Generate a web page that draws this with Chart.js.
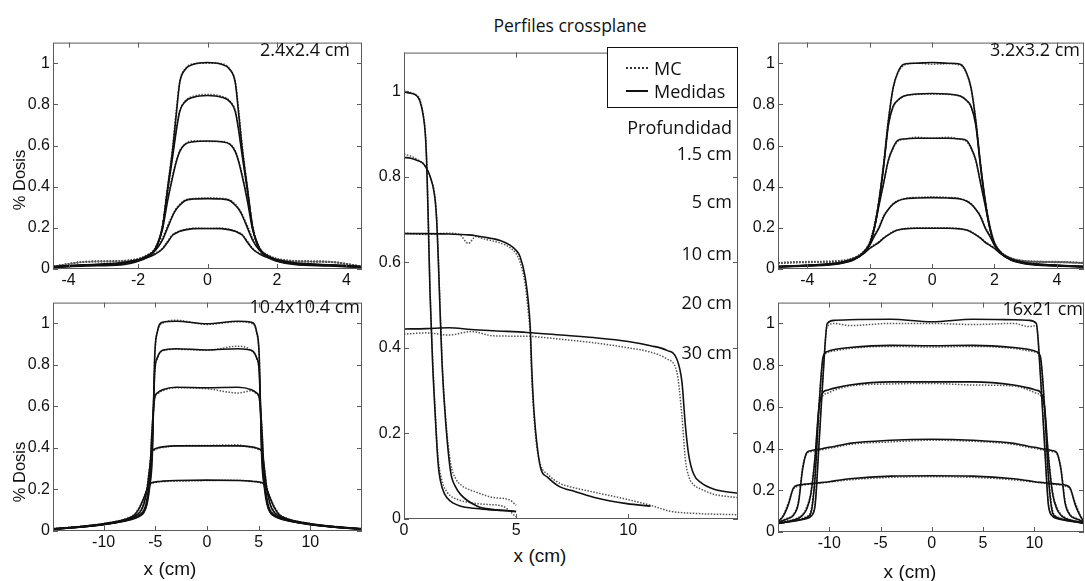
<!DOCTYPE html>
<html>
<head>
<meta charset="utf-8">
<script src="https://cdn.jsdelivr.net/npm/chart.js@4.4.1/dist/chart.umd.min.js"></script>
<style>
  body { margin: 0; background: #fff; width: 1085px; height: 581px; overflow: hidden; position: relative; }
  canvas { position: absolute; }
  .note { position: absolute; font-family: "Open Sans", sans-serif; font-size: 18px; line-height: 1; color: #111; white-space: nowrap; transform: translateY(-50%); }
  .axt { position: absolute; font-family: "Liberation Sans", Arial, sans-serif; color: #111; white-space: nowrap; line-height: 1; }
  #legend { position: absolute; left: 607px; top: 47px; width: 131px; height: 61px; box-sizing: border-box; border: 1px solid #111; background: #fff; }
  #legend .smp { position: absolute; left: 18px; width: 22px; height: 0; }
</style>
</head>
<body>
<canvas id="pTL"></canvas>
<canvas id="pBL"></canvas>
<canvas id="pMid"></canvas>
<canvas id="pTR"></canvas>
<canvas id="pBR"></canvas>

<div class="note" style="left:570px;top:26px;font-size:17.5px;transform:translate(-50%,-50%)">Perfiles crossplane</div>
<div class="note" style="right:735px;top:49px">2.4x2.4 cm</div>
<div class="note" style="right:725px;top:306px">10.4x10.4 cm</div>
<div class="note" style="right:5px;top:49px">3.2x3.2 cm</div>
<div class="note" style="right:2px;top:308px">16x21 cm</div>
<div class="note" style="right:353px;top:127px">Profundidad</div>
<div class="note" style="right:353px;top:153px">1.5 cm</div>
<div class="note" style="right:353px;top:201px">5 cm</div>
<div class="note" style="right:353px;top:253px">10 cm</div>
<div class="note" style="right:353px;top:302px">20 cm</div>
<div class="note" style="right:353px;top:352px">30 cm</div>

<div id="legend">
  <div class="smp" style="top:19px;border-top:2px dotted #333"></div>
  <div class="note" style="left:46px;top:20px">MC</div>
  <div class="smp" style="top:42px;border-top:2px solid #111"></div>
  <div class="note" style="left:46px;top:43px">Medidas</div>
</div>

<div class="axt" style="left:19px;top:180px;font-size:16.5px;transform:translate(-50%,-50%) rotate(-90deg)">% Dosis</div>
<div class="axt" style="left:19px;top:472px;font-size:16.5px;transform:translate(-50%,-50%) rotate(-90deg)">% Dosis</div>
<div class="axt" style="left:170px;top:568px;font-size:19px;transform:translate(-50%,-50%)">x (cm)</div>
<div class="axt" style="left:540px;top:555px;font-size:19px;transform:translate(-50%,-50%)">x (cm)</div>
<div class="axt" style="left:910px;top:571px;font-size:19px;transform:translate(-50%,-50%)">x (cm)</div>

<script>
// ---- tick values ----
const ticksY = [0, 0.2, 0.4, 0.6, 0.8, 1];
const ticksXSmall = [-4, -2, 0, 2, 4];
const ticksXLarge = [-10, -5, 0, 5, 10];
const ticksXMid = [0, 5, 10];

// ---- 2.4x2.4 cm field (depths 1.5, 5, 10, 20, 30 cm) ----
const x24 = [-4.45,-3.5,-2.5,-2,-1.75,-1.5,-1.3,-1.15,-1,-0.9,-0.8,-0.65,-0.4,0,0.4,0.65,0.8,0.9,1,1.15,1.3,1.5,1.75,2,2.5,3.5,4.45];
const med24_15 = [0.008,0.015,0.02,0.038,0.055,0.095,0.2,0.39,0.585,0.75,0.905,0.968,0.995,1.003,0.995,0.968,0.905,0.75,0.585,0.39,0.2,0.095,0.055,0.038,0.022,0.015,0.008];
const med24_5 = [0.009,0.017,0.025,0.04,0.058,0.097,0.2,0.38,0.55,0.67,0.765,0.812,0.835,0.843,0.835,0.812,0.765,0.67,0.55,0.38,0.2,0.097,0.058,0.04,0.025,0.017,0.009];
const med24_10 = [0.01,0.018,0.027,0.042,0.06,0.1,0.19,0.33,0.45,0.52,0.57,0.605,0.618,0.622,0.618,0.605,0.57,0.52,0.45,0.33,0.19,0.1,0.06,0.042,0.027,0.018,0.01];
const med24_20 = [0.011,0.02,0.029,0.045,0.063,0.09,0.14,0.2,0.26,0.29,0.31,0.332,0.34,0.342,0.34,0.332,0.31,0.29,0.26,0.2,0.14,0.09,0.063,0.045,0.029,0.02,0.011];
const med24_30 = [0.012,0.021,0.03,0.045,0.055,0.073,0.097,0.13,0.165,0.175,0.183,0.19,0.196,0.197,0.196,0.19,0.183,0.175,0.165,0.13,0.097,0.073,0.055,0.045,0.03,0.021,0.012];
const mc24_15 = [0.012,0.035,0.037,0.046,0.062,0.1,0.21,0.4,0.6,0.77,0.91,0.972,0.997,1.0,0.998,0.97,0.91,0.77,0.6,0.4,0.21,0.1,0.06,0.045,0.036,0.033,0.012];
const mc24_5 = [0.012,0.034,0.038,0.046,0.062,0.1,0.21,0.39,0.56,0.68,0.77,0.815,0.84,0.848,0.84,0.815,0.77,0.68,0.56,0.39,0.21,0.1,0.062,0.046,0.037,0.034,0.012];
const mc24_10 = [0.012,0.035,0.038,0.048,0.065,0.105,0.2,0.34,0.46,0.525,0.575,0.607,0.623,0.62,0.62,0.607,0.575,0.525,0.46,0.34,0.2,0.105,0.065,0.048,0.038,0.035,0.012];
const mc24_20 = [0.013,0.036,0.04,0.05,0.068,0.095,0.15,0.21,0.265,0.295,0.315,0.335,0.342,0.345,0.343,0.335,0.315,0.295,0.265,0.21,0.15,0.095,0.068,0.05,0.04,0.036,0.013];
const mc24_30 = [0.013,0.036,0.04,0.05,0.06,0.077,0.1,0.135,0.168,0.178,0.185,0.192,0.198,0.197,0.198,0.192,0.185,0.178,0.168,0.135,0.1,0.077,0.06,0.05,0.04,0.036,0.013];

// ---- 3.2x3.2 cm field ----
const x32 = [-4.94,-4,-3,-2.5,-2.2,-2,-1.85,-1.7,-1.55,-1.4,-1.25,-1.1,-0.9,-0.5,0,0.5,0.9,1.1,1.25,1.4,1.55,1.7,1.85,2,2.2,2.5,3,4,4.87];
const med32_15 = [0.01,0.015,0.025,0.045,0.075,0.12,0.2,0.33,0.51,0.72,0.88,0.955,0.995,1.0,1.003,1.0,0.995,0.955,0.88,0.72,0.51,0.33,0.2,0.12,0.075,0.045,0.025,0.015,0.01];
const med32_5 = [0.011,0.016,0.027,0.047,0.077,0.12,0.2,0.33,0.5,0.7,0.79,0.82,0.84,0.85,0.853,0.85,0.84,0.82,0.79,0.7,0.5,0.33,0.2,0.12,0.077,0.047,0.027,0.016,0.011];
const med32_10 = [0.012,0.017,0.028,0.05,0.08,0.125,0.2,0.31,0.42,0.53,0.59,0.625,0.632,0.635,0.635,0.635,0.632,0.625,0.59,0.53,0.42,0.31,0.2,0.125,0.08,0.05,0.028,0.017,0.012];
const med32_20 = [0.012,0.018,0.029,0.05,0.078,0.115,0.16,0.2,0.255,0.29,0.315,0.33,0.34,0.345,0.347,0.345,0.34,0.33,0.315,0.29,0.255,0.2,0.16,0.115,0.078,0.05,0.029,0.018,0.012];
const med32_30 = [0.013,0.019,0.03,0.05,0.075,0.1,0.115,0.13,0.15,0.166,0.18,0.19,0.195,0.198,0.198,0.198,0.195,0.19,0.18,0.166,0.15,0.13,0.115,0.1,0.075,0.05,0.03,0.019,0.013];
const mc32_15 = [0.028,0.032,0.035,0.05,0.08,0.13,0.21,0.34,0.52,0.73,0.875,0.95,0.99,1.0,0.995,0.997,0.99,0.95,0.875,0.73,0.52,0.34,0.21,0.13,0.08,0.05,0.035,0.032,0.028];
const mc32_5 = [0.029,0.033,0.037,0.052,0.082,0.13,0.21,0.34,0.51,0.7,0.785,0.818,0.84,0.848,0.85,0.848,0.84,0.818,0.785,0.7,0.51,0.34,0.21,0.13,0.082,0.052,0.037,0.033,0.029];
const mc32_10 = [0.03,0.034,0.038,0.054,0.085,0.13,0.21,0.32,0.42,0.525,0.585,0.62,0.63,0.64,0.635,0.64,0.63,0.62,0.585,0.525,0.42,0.32,0.21,0.13,0.085,0.054,0.038,0.034,0.03];
const mc32_20 = [0.03,0.035,0.039,0.055,0.083,0.12,0.165,0.205,0.26,0.29,0.318,0.332,0.342,0.348,0.35,0.348,0.342,0.332,0.318,0.29,0.26,0.205,0.165,0.12,0.083,0.055,0.039,0.035,0.03];
const mc32_30 = [0.031,0.036,0.04,0.056,0.08,0.104,0.118,0.133,0.152,0.168,0.182,0.19,0.196,0.2,0.2,0.2,0.196,0.19,0.182,0.168,0.152,0.133,0.118,0.104,0.08,0.056,0.04,0.036,0.031];

// ---- 10.4x10.4 cm field ----
const x104 = [-14.9,-12,-10,-8,-7,-6.5,-6.1,-5.8,-5.55,-5.3,-5.05,-4.8,-4.3,-3,0,3,4.3,4.8,5.05,5.3,5.55,5.8,6.1,6.5,7,8,10,12,15];
const med104_15 = [0.008,0.02,0.03,0.047,0.06,0.072,0.09,0.13,0.21,0.35,0.85,0.96,1.005,1.01,0.998,1.01,1.005,0.96,0.85,0.35,0.21,0.13,0.09,0.072,0.06,0.047,0.03,0.02,0.008];
const med104_5 = [0.009,0.02,0.031,0.048,0.062,0.075,0.095,0.14,0.23,0.4,0.77,0.835,0.87,0.878,0.872,0.878,0.87,0.835,0.77,0.4,0.23,0.14,0.095,0.075,0.062,0.048,0.031,0.02,0.009];
const med104_10 = [0.009,0.021,0.032,0.05,0.064,0.078,0.1,0.15,0.26,0.5,0.645,0.665,0.68,0.692,0.69,0.692,0.68,0.665,0.645,0.5,0.26,0.15,0.1,0.078,0.064,0.05,0.032,0.021,0.009];
const med104_20 = [0.01,0.022,0.033,0.052,0.07,0.09,0.13,0.2,0.3,0.385,0.395,0.4,0.405,0.41,0.41,0.41,0.405,0.4,0.395,0.385,0.3,0.2,0.13,0.09,0.07,0.052,0.033,0.022,0.01];
const med104_30 = [0.01,0.023,0.035,0.055,0.078,0.114,0.16,0.2,0.225,0.233,0.236,0.238,0.24,0.243,0.245,0.243,0.24,0.238,0.236,0.233,0.225,0.2,0.16,0.114,0.078,0.055,0.035,0.023,0.01];
const mc104_15 = [0.01,0.02,0.032,0.05,0.062,0.075,0.095,0.14,0.22,0.37,0.84,0.955,1.0,1.015,0.995,1.008,1.0,0.955,0.84,0.37,0.22,0.14,0.095,0.075,0.062,0.05,0.032,0.02,0.01];
const mc104_5 = [0.01,0.021,0.032,0.05,0.064,0.078,0.1,0.15,0.24,0.42,0.765,0.83,0.868,0.875,0.87,0.89,0.868,0.83,0.765,0.42,0.24,0.15,0.1,0.078,0.064,0.05,0.032,0.021,0.01];
const mc104_10 = [0.01,0.022,0.033,0.052,0.066,0.08,0.105,0.16,0.27,0.51,0.64,0.66,0.675,0.69,0.685,0.665,0.675,0.66,0.64,0.51,0.27,0.16,0.105,0.08,0.066,0.052,0.033,0.022,0.01];
const mc104_20 = [0.011,0.023,0.034,0.054,0.073,0.095,0.14,0.21,0.31,0.38,0.39,0.397,0.402,0.41,0.412,0.415,0.402,0.397,0.39,0.38,0.31,0.21,0.14,0.095,0.073,0.054,0.034,0.023,0.011];
const mc104_30 = [0.011,0.024,0.036,0.057,0.082,0.12,0.165,0.205,0.222,0.23,0.233,0.236,0.238,0.24,0.243,0.245,0.238,0.236,0.233,0.23,0.222,0.205,0.165,0.12,0.082,0.057,0.036,0.024,0.011];

// ---- 16x21 cm field ----
const x1621 = [-15,-14.5,-14,-13.5,-13,-12.6,-12.2,-11.8,-11.4,-11,-10.6,-10.2,-9.5,-8,-4,0,4,8,9.5,10.2,10.6,11,11.4,11.8,12.2,12.6,13,13.5,14,14.5,14.85];
const med1621_15 = [0.042,0.046,0.05,0.053,0.057,0.06,0.065,0.075,0.12,0.42,0.75,1.0,1.015,1.018,1.02,1.008,1.02,1.018,1.015,1.0,0.75,0.42,0.12,0.075,0.065,0.06,0.057,0.053,0.05,0.046,0.042];
const med1621_5 = [0.041,0.044,0.048,0.052,0.057,0.062,0.07,0.09,0.25,0.6,0.84,0.865,0.875,0.885,0.895,0.893,0.895,0.885,0.875,0.865,0.84,0.6,0.25,0.09,0.07,0.062,0.057,0.052,0.048,0.044,0.041];
const med1621_10 = [0.041,0.045,0.05,0.057,0.066,0.08,0.11,0.18,0.35,0.6,0.67,0.68,0.69,0.705,0.72,0.72,0.72,0.705,0.69,0.68,0.67,0.6,0.35,0.18,0.11,0.08,0.066,0.057,0.05,0.045,0.041];
const med1621_20 = [0.046,0.055,0.065,0.08,0.14,0.3,0.38,0.39,0.394,0.397,0.4,0.405,0.41,0.425,0.44,0.445,0.44,0.425,0.41,0.405,0.4,0.397,0.394,0.39,0.38,0.3,0.14,0.08,0.065,0.055,0.046];
const med1621_30 = [0.05,0.075,0.13,0.21,0.225,0.228,0.23,0.232,0.234,0.236,0.238,0.24,0.245,0.255,0.268,0.27,0.268,0.255,0.245,0.24,0.238,0.236,0.234,0.232,0.23,0.228,0.225,0.21,0.13,0.075,0.05];
const mc1621_15 = [0.045,0.05,0.053,0.056,0.06,0.064,0.07,0.08,0.13,0.44,0.76,0.985,1.0,0.99,1.0,1.0,0.995,1.0,0.985,0.99,0.76,0.44,0.13,0.08,0.07,0.064,0.06,0.056,0.053,0.05,0.045];
const mc1621_5 = [0.044,0.048,0.052,0.055,0.06,0.066,0.075,0.1,0.27,0.61,0.83,0.86,0.868,0.88,0.89,0.887,0.89,0.88,0.868,0.86,0.83,0.61,0.27,0.1,0.075,0.066,0.06,0.055,0.052,0.048,0.044];
const mc1621_10 = [0.044,0.048,0.053,0.06,0.07,0.085,0.12,0.19,0.36,0.59,0.655,0.665,0.68,0.7,0.71,0.712,0.705,0.7,0.68,0.665,0.655,0.59,0.36,0.19,0.12,0.085,0.07,0.06,0.053,0.048,0.044];
const mc1621_20 = [0.05,0.058,0.068,0.085,0.15,0.31,0.375,0.385,0.39,0.393,0.395,0.4,0.405,0.42,0.432,0.44,0.435,0.42,0.405,0.4,0.395,0.393,0.39,0.385,0.375,0.31,0.15,0.085,0.068,0.058,0.05];
const mc1621_30 = [0.053,0.08,0.14,0.205,0.22,0.225,0.227,0.23,0.232,0.234,0.236,0.238,0.242,0.25,0.262,0.265,0.262,0.25,0.242,0.238,0.236,0.234,0.232,0.23,0.227,0.225,0.22,0.205,0.14,0.08,0.053];

// ---- crossplane half profiles (centre panel) ----
const midXA = [0,0.3,0.55,0.71,0.86,0.95,1.01,1.08,1.16,1.28,1.41,1.48,1.56,1.72,1.93,2.2,2.53,3.1,3.72,4.4,5];
const midMedA = [0.998,0.995,0.99,0.977,0.942,0.9,0.835,0.7,0.53,0.36,0.226,0.16,0.11,0.07,0.049,0.037,0.03,0.025,0.022,0.02,0.018];
const midMcA = [1.0,0.997,0.99,0.98,0.945,0.905,0.84,0.71,0.54,0.37,0.235,0.17,0.125,0.085,0.062,0.05,0.043,0.037,0.034,0.03,0.005];
const midXB = [0,0.3,0.6,0.86,1.09,1.2,1.31,1.4,1.46,1.52,1.6,1.7,1.86,2.08,2.3,2.53,3.27,4,4.7,5];
const midMedB = [0.845,0.843,0.838,0.831,0.811,0.795,0.773,0.74,0.696,0.62,0.5,0.36,0.226,0.11,0.075,0.057,0.03,0.022,0.019,0.017];
const midMcB = [0.853,0.848,0.84,0.83,0.81,0.795,0.775,0.745,0.7,0.63,0.51,0.37,0.235,0.13,0.095,0.08,0.062,0.05,0.045,0.032];
const midXC = [0,1,2,2.5,2.87,3.2,3.53,4.29,4.73,5,5.18,5.4,5.55,5.63,5.7,5.8,5.92,6.1,6.4,6.96,7.44,8.45,9.94,11,11.9,13,14.9];
const midMedC = [0.667,0.667,0.666,0.665,0.664,0.662,0.659,0.651,0.64,0.628,0.613,0.567,0.505,0.45,0.35,0.25,0.18,0.118,0.098,0.075,0.067,0.051,0.036,0.03,null,null,null];
const midMcC = [0.668,0.665,0.668,0.664,0.644,0.66,0.655,0.645,0.634,0.62,0.6,0.55,0.48,0.43,0.33,0.24,0.17,0.125,0.105,0.083,0.075,0.063,0.046,0.032,0.018,0.013,0.01];
const midXD = [0,1,2,3,4,5.48,7,8.45,10,11,11.73,12.17,12.4,12.55,12.7,12.92,13.25,13.8,14.9];
const midMedD = [0.444,0.445,0.447,0.443,0.44,0.436,0.43,0.424,0.415,0.405,0.394,0.374,0.32,0.22,0.15,0.105,0.085,0.07,0.06];
const midMcD = [0.432,0.435,0.43,0.438,0.428,0.427,0.42,0.412,0.4,0.39,0.374,0.344,0.24,0.14,0.1,0.08,0.07,0.058,0.05];

/** One profile line: solid = measured (Medidas), dotted = Monte Carlo. */
function lineSet(xs, ys, dotted) {
  return {
    data: xs.map((x, i) => ({ x, y: ys[i] })),
    borderColor: dotted ? '#555' : '#111',
    borderWidth: dotted ? 1.5 : 1.6,
    borderDash: dotted ? [1.5, 1.5] : [],
    pointRadius: 0,
    fill: false,
    spanGaps: false,
    cubicInterpolationMode: 'monotone',
  };
}

function profileSets(xs, measured, mc) {
  return measured.map((ys) => lineSet(xs, ys, false))
    .concat(mc.map((ys) => lineSet(xs, ys, true)));
}

// box around the plot area with MATLAB-style inward ticks on all four sides
const frameTicks = {
  id: 'frameTicks',
  afterDatasetsDraw(chart) {
    const { ctx, chartArea: a, scales: { x, y } } = chart;
    ctx.save();
    ctx.strokeStyle = '#5a5a5a';
    ctx.lineWidth = 1;
    ctx.strokeRect(a.left + 0.5, a.top + 0.5, a.right - a.left - 1, a.bottom - a.top - 1);
    ctx.beginPath();
    x.ticks.forEach((t) => {
      const px = Math.round(x.getPixelForValue(t.value)) + 0.5;
      ctx.moveTo(px, a.bottom); ctx.lineTo(px, a.bottom - 5);
      ctx.moveTo(px, a.top); ctx.lineTo(px, a.top + 5);
    });
    y.ticks.forEach((t) => {
      const py = Math.round(y.getPixelForValue(t.value)) + 0.5;
      ctx.moveTo(a.left, py); ctx.lineTo(a.left + 5, py);
      ctx.moveTo(a.right, py); ctx.lineTo(a.right - 5, py);
    });
    ctx.stroke();
    ctx.restore();
  },
};

function axisOpts(min, max, values, fit, pad) {
  return {
    type: 'linear',
    min, max,
    afterBuildTicks: (s) => { s.ticks = values.map((v) => ({ value: v })); },
    afterFit: fit,
    grid: { display: false, drawTicks: false },
    border: { display: false },
    ticks: {
      padding: pad,
      color: '#111',
      autoSkip: false,
      maxRotation: 0,
      font: { family: '"Liberation Sans", Arial, sans-serif', size: 16 },
      callback: (v) => String(Math.round(v * 10) / 10),
    },
  };
}

// box = canvas rect on the page, area = wanted plot area (page coords)
function drawPanel(id, box, area, xMin, xMax, xTicks, yMax, sets) {
  const canvas = document.getElementById(id);
  canvas.width = box.w;
  canvas.height = box.h;
  canvas.style.left = box.x + 'px';
  canvas.style.top = box.y + 'px';
  new Chart(canvas, {
    type: 'line',
    data: { datasets: sets },
    options: {
      responsive: false,
      animation: false,
      events: [],
      layout: { padding: { left: 0, top: area.t - box.y, right: box.x + box.w - area.r, bottom: 0 } },
      plugins: { legend: { display: false }, tooltip: { enabled: false } },
      scales: {
        x: axisOpts(xMin, xMax, xTicks, (s) => { s.height = box.y + box.h - area.b; }, 2),
        y: axisOpts(0, yMax, ticksY, (s) => { s.width = area.l - box.x; }, 3),
      },
    },
    plugins: [frameTicks],
  });
}

drawPanel('pTL', { x: 0, y: 30, w: 370, h: 262 }, { l: 53, t: 37, r: 362, b: 269 }, -4.45, 4.45, ticksXSmall, 1.1,
  profileSets(x24, [med24_15, med24_5, med24_10, med24_20, med24_30], [mc24_15, mc24_5, mc24_10, mc24_20, mc24_30]));

drawPanel('pBL', { x: 0, y: 290, w: 370, h: 264 }, { l: 53, t: 295, r: 362, b: 531 }, -14.9, 15, ticksXLarge, 1.1,
  profileSets(x104, [med104_15, med104_5, med104_10, med104_20, med104_30], [mc104_15, mc104_5, mc104_10, mc104_20, mc104_30]));

drawPanel('pTR', { x: 742, y: 30, w: 343, h: 262 }, { l: 778, t: 37, r: 1084, b: 269 }, -4.94, 4.87, ticksXSmall, 1.1,
  profileSets(x32, [med32_15, med32_5, med32_10, med32_20, med32_30], [mc32_15, mc32_5, mc32_10, mc32_20, mc32_30]));

drawPanel('pBR', { x: 742, y: 290, w: 343, h: 265 }, { l: 778, t: 297, r: 1084, b: 532 }, -15, 14.85, ticksXLarge, 1.1,
  profileSets(x1621, [med1621_15, med1621_5, med1621_10, med1621_20, med1621_30], [mc1621_15, mc1621_5, mc1621_10, mc1621_20, mc1621_30]));

drawPanel('pMid', { x: 370, y: 40, w: 372, h: 502 }, { l: 404, t: 47, r: 738, b: 519 }, 0, 14.9, ticksXMid, 1.09, [
  lineSet(midXA, midMedA, false), lineSet(midXB, midMedB, false),
  lineSet(midXC, midMedC, false), lineSet(midXD, midMedD, false),
  lineSet(midXA, midMcA, true), lineSet(midXB, midMcB, true),
  lineSet(midXC, midMcC, true), lineSet(midXD, midMcD, true),
]);
</script>
</body>
</html>
